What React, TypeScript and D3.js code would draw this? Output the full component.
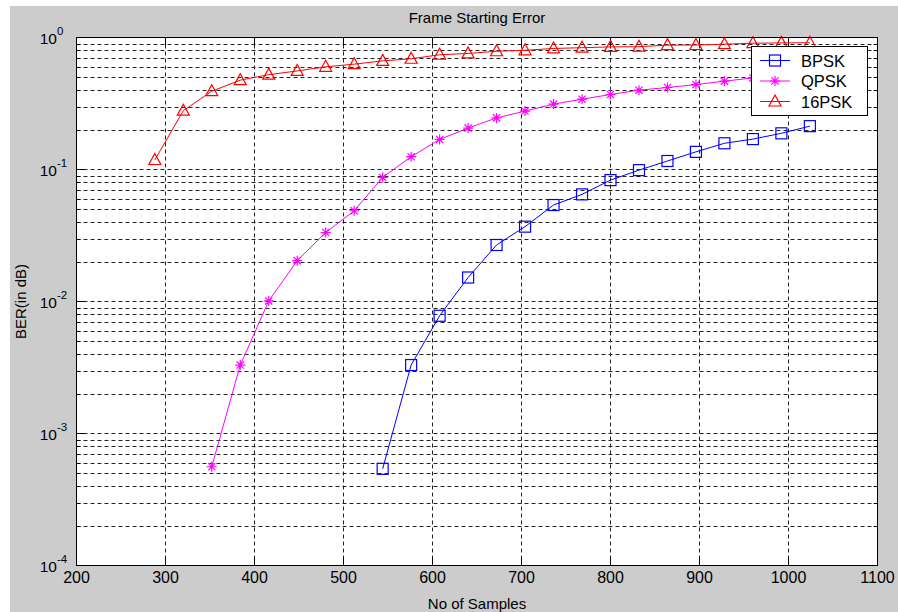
import React from "react";
import * as d3 from "d3";

// Samples at which each frame-start detector was evaluated
const bpskSamples = [544, 576, 608, 640, 672, 704, 736, 768, 800, 832, 864, 896, 928, 960, 992, 1024];
const qpskSamples = [352, 384, 416, 448, 480, 512, 544, 576, 608, 640, 672, 704, 736, 768, 800, 832, 864, 896, 928, 960, 992, 1024];
const psk16Samples = [288, 320, 352, 384, 416, 448, 480, 512, 544, 576, 608, 640, 672, 704, 736, 768, 800, 832, 864, 896, 928, 960, 992, 1024];

// Frame starting error rate per modulation
const bpskBer = [0.00054, 0.0033, 0.0078, 0.0152, 0.0268, 0.0369, 0.0538, 0.0648, 0.0831, 0.0989, 0.116, 0.136, 0.158, 0.17, 0.188, 0.213];
const qpskBer = [0.00056, 0.0033, 0.0101, 0.0204, 0.0333, 0.0487, 0.0871, 0.125, 0.169, 0.206, 0.246, 0.277, 0.313, 0.341, 0.37, 0.399, 0.418, 0.44, 0.467, 0.494, 0.51, 0.535];
const psk16Ber = [0.118, 0.279, 0.392, 0.475, 0.523, 0.558, 0.6, 0.628, 0.665, 0.69, 0.74, 0.757, 0.787, 0.8, 0.826, 0.837, 0.849, 0.852, 0.875, 0.877, 0.89, 0.905, 0.91, 0.912];

const xTicks = [200, 300, 400, 500, 600, 700, 800, 900, 1000, 1100];
const yDecades = [0, -1, -2, -3, -4];

const seriesNames = ["BPSK", "QPSK", "16PSK"];
const seriesColors = ["#0000ff", "#ff00ff", "#ff0000"];
const seriesMarkers = ["square", "star", "triangle"];

const W = 898;
const H = 612;
const FONT = "'Liberation Sans', Arial, sans-serif";

const x = d3.scaleLinear().domain([200, 1100]).range([76.5, 877.5]);
const y = d3.scaleLog().domain([1e-4, 1]).range([565.5, 37.5]);

function Marker({ kind, cx, cy, color }: { kind: string; cx: number; cy: number; color: string }) {
  if (kind === "square") {
    return <rect x={cx - 5.5} y={cy - 5.5} width={11} height={11} fill="none" stroke={color} strokeWidth={1.2} />;
  }
  if (kind === "triangle") {
    return (
      <path
        d={`M${cx},${cy - 6.5}L${cx + 6},${cy + 4.5}L${cx - 6},${cy + 4.5}Z`}
        fill="none"
        stroke={color}
        strokeWidth={1.2}
      />
    );
  }
  const a = 5;
  const b = 3.6;
  return (
    <path
      d={`M${cx - a},${cy}L${cx + a},${cy}M${cx},${cy - a}L${cx},${cy + a}M${cx - b},${cy - b}L${cx + b},${cy + b}M${cx - b},${cy + b}L${cx + b},${cy - b}`}
      fill="none"
      stroke={color}
      strokeWidth={1.2}
    />
  );
}

export default function App() {
  const series = [
    { xs: bpskSamples, ys: bpskBer },
    { xs: qpskSamples, ys: qpskBer },
    { xs: psk16Samples, ys: psk16Ber },
  ];
  const line = d3
    .line<[number, number]>()
    .x((d) => x(d[0]))
    .y((d) => y(d[1]));

  const [x0, x1] = x.range();
  const [yb, yt] = y.range();

  // minor log ticks 2..9 inside each decade
  const minorTicks: number[] = [];
  for (let e = -4; e < 0; e++) {
    for (let m = 2; m <= 9; m++) minorTicks.push(m * Math.pow(10, e));
  }

  const gridStyle = { stroke: "#222", strokeWidth: 1, strokeDasharray: "4,3" };

  return (
    <svg width={W} height={H} style={{ position: "absolute", left: 0, top: 0 }} fontFamily={FONT}>
      <rect x={0} y={0} width={W} height={H} fill="#ffffff" />
      <rect x={10} y={6} width={W - 10} height={H - 6} fill="#cccccc" />
      <rect x={x0} y={yt} width={x1 - x0} height={yb - yt} fill="#ffffff" />

      {/* grid */}
      <g>
        {xTicks.slice(1, -1).map((t) => (
          <line key={"gx" + t} x1={x(t)} x2={x(t)} y1={yt} y2={yb} {...gridStyle} />
        ))}
        {yDecades.slice(1, -1).map((e) => (
          <line key={"gy" + e} x1={x0} x2={x1} y1={y(Math.pow(10, e))} y2={y(Math.pow(10, e))} {...gridStyle} />
        ))}
        {minorTicks.map((t) => (
          <line key={"gm" + t} x1={x0} x2={x1} y1={Math.round(y(t)) + 0.5} y2={Math.round(y(t)) + 0.5} {...gridStyle} />
        ))}
      </g>

      {/* ticks on all four sides */}
      <g stroke="#000" strokeWidth={1}>
        {xTicks.map((t) => (
          <g key={"tx" + t}>
            <line x1={x(t)} x2={x(t)} y1={yb} y2={yb - 8} />
            <line x1={x(t)} x2={x(t)} y1={yt} y2={yt + 8} />
          </g>
        ))}
        {yDecades.map((e) => (
          <g key={"ty" + e}>
            <line x1={x0} x2={x0 + 8} y1={y(Math.pow(10, e))} y2={y(Math.pow(10, e))} />
            <line x1={x1} x2={x1 - 8} y1={y(Math.pow(10, e))} y2={y(Math.pow(10, e))} />
          </g>
        ))}
        {minorTicks.map((t) => (
          <g key={"tm" + t}>
            <line x1={x0} x2={x0 + 4} y1={Math.round(y(t)) + 0.5} y2={Math.round(y(t)) + 0.5} />
            <line x1={x1} x2={x1 - 4} y1={Math.round(y(t)) + 0.5} y2={Math.round(y(t)) + 0.5} />
          </g>
        ))}
      </g>

      {/* data */}
      {series.map((s, i) => {
        const pts = s.xs.map((v, j) => [v, s.ys[j]] as [number, number]);
        return (
          <g key={"s" + i}>
            <path d={line(pts) || ""} fill="none" stroke={seriesColors[i]} strokeWidth={1} />
            {pts.map((p, j) => (
              <Marker key={j} kind={seriesMarkers[i]} cx={x(p[0])} cy={y(p[1])} color={seriesColors[i]} />
            ))}
          </g>
        );
      })}

      {/* axes box */}
      <rect x={x0} y={yt} width={x1 - x0} height={yb - yt} fill="none" stroke="#000" strokeWidth={1} />

      {/* tick labels */}
      <g fill="#000">
        {xTicks.map((t) => (
          <text key={"lx" + t} x={x(t)} y={583} textAnchor="middle" fontSize={16}>
            {t}
          </text>
        ))}
        {yDecades.map((e) => (
          <g key={"ly" + e}>
            <text x={57} y={y(Math.pow(10, e)) + 6} textAnchor="end" fontSize={15.5}>
              10
            </text>
            <text x={57} y={y(Math.pow(10, e)) - 2.5} fontSize={11.5}>
              {e === 0 ? "0" : String(e)}
            </text>
          </g>
        ))}
      </g>

      {/* titles */}
      <text x={(x0 + x1) / 2} y={23} textAnchor="middle" fontSize={15}>
        Frame Starting Error
      </text>
      <text x={(x0 + x1) / 2} y={609} textAnchor="middle" fontSize={15}>
        No of Samples
      </text>
      <text transform={`translate(26,${(yt + yb) / 2}) rotate(-90)`} textAnchor="middle" fontSize={15}>
        BER(in dB)
      </text>

      {/* legend */}
      <g>
        <rect x={751.5} y={46.5} width={116} height={69} fill="#ffffff" stroke="#000" strokeWidth={1} />
        {seriesNames.map((n, i) => {
          const ly = 60.5 + i * 20.5;
          return (
            <g key={"lg" + n}>
              <line x1={760} x2={790} y1={ly} y2={ly} stroke={seriesColors[i]} strokeWidth={1} />
              <Marker kind={seriesMarkers[i]} cx={775} cy={ly} color={seriesColors[i]} />
              <text x={801} y={ly + 6} fontSize={16.5}>
                {n}
              </text>
            </g>
          );
        })}
      </g>
    </svg>
  );
}
